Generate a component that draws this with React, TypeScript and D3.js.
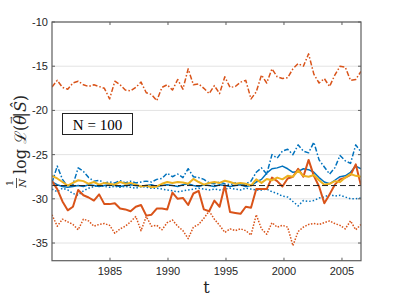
import React from 'react'
import * as d3 from 'd3'

// time grid: 60 samples from 1980 to ~2006.6
const startYear = 1980
const stepYear = 0.4515
const nPts = 60

const topDashDot = [
  -17.35, -16.6, -17.4, -17.6, -16.9, -16.7, -17.1, -17.3, -17.1, -17.3,
  -17.5, -18.7, -16.7, -17.1, -17.7, -17.8, -17.4, -16.8, -18.0, -18.2,
  -18.9, -17.4, -17.1, -17.7, -16.5, -17.6, -15.3, -17.1, -17.0, -17.5,
  -18.1, -17.2, -18.1, -16.2, -17.4, -17.3, -16.8, -16.6, -18.7, -17.9,
  -16.0, -16.9, -15.3, -16.2, -16.4, -16.3, -15.3, -14.7, -15.0, -13.6,
  -15.9, -16.9, -16.4, -17.3, -16.0, -15.0, -15.1, -16.6, -16.5, -15.6
]

const orangeSolid = [
  -28.0, -28.9, -30.3, -31.3, -30.9, -29.0, -29.6, -29.85, -30.2, -29.5,
  -30.6, -30.6, -30.5, -31.1, -31.2, -31.4, -30.9, -30.7, -31.9, -31.8,
  -31.1, -31.1, -31.2, -29.3, -30.0, -29.9, -30.7, -29.4, -29.1, -31.2,
  -31.4, -30.2, -30.9, -28.5, -31.5, -31.6, -31.7, -30.9, -31.0, -28.9,
  -28.9, -28.9, -27.6, -28.0, -28.6, -27.7, -27.5, -26.6, -27.5, -25.6,
  -27.4, -28.6, -30.5, -29.5, -28.4, -27.8, -27.6, -27.3, -26.1, -28.5
]

const orangeDotted = [
  -31.8, -33.1, -32.3, -32.6, -32.9, -33.5, -32.3, -32.5, -33.1, -32.9,
  -32.8, -33.0, -33.9, -33.4, -33.1, -32.6, -32.0, -33.6, -32.0, -33.1,
  -33.0, -33.5, -32.7, -32.4, -33.1, -33.6, -34.5, -33.2, -32.9, -32.2,
  -31.4, -32.3, -33.0, -33.8, -33.4, -33.6, -33.4, -33.6, -34.1, -31.8,
  -33.4, -34.0, -32.7, -33.2, -33.0, -33.2, -35.3, -33.7, -33.2, -32.9,
  -32.8, -32.9, -32.7, -32.5, -32.8, -33.0, -33.4, -32.5, -33.5, -32.9
]

const blueDashDot = [
  -28.2, -26.3, -27.8, -28.6, -28.4, -26.5, -26.9, -27.6, -28.0, -27.9,
  -28.2, -28.1, -28.2, -27.95, -28.2, -28.0, -28.2, -28.1, -28.0, -28.1,
  -27.8, -27.7, -27.1, -27.5, -27.2, -27.6, -26.6, -27.5, -27.6, -27.8,
  -28.2, -28.3, -28.1, -28.3, -28.4, -28.2, -28.5, -28.3, -28.0, -27.0,
  -26.5, -27.2, -25.0, -25.4, -24.6, -24.4, -25.0, -23.9, -24.6, -24.8,
  -23.6, -25.6, -26.4, -27.2, -26.5, -25.1, -25.7, -26.0, -23.9, -24.7
]

const blueDotted = [
  -28.9, -29.2, -28.8, -29.0, -29.4, -29.6, -29.1, -28.8, -28.6, -28.5,
  -28.6, -28.7, -28.6, -28.7, -28.6, -28.7, -28.8, -28.6, -28.7, -28.8,
  -28.8, -28.9, -29.0, -29.1, -29.2, -29.1, -29.0, -28.9, -28.8, -28.9,
  -29.0, -28.9, -29.0, -28.9, -28.8, -28.9, -29.0, -28.8, -28.9, -29.0,
  -29.0, -28.9, -29.2, -29.4, -29.7, -29.8, -30.3, -30.8, -30.2, -30.3,
  -30.2, -29.9, -29.8, -29.5, -29.7, -29.6, -29.8, -30.0, -30.0, -29.9
]

const blueSolid = [
  -28.1, -28.4, -28.6, -28.7, -28.6, -28.5, -28.6, -28.4, -28.5, -28.6,
  -28.5, -28.4, -28.5, -28.6, -28.5, -28.4, -28.5, -28.6, -28.5, -28.4,
  -28.6, -28.5, -28.4, -28.5, -28.6, -28.4, -28.3, -28.5, -28.6, -28.4,
  -28.5, -28.6, -28.4, -28.5, -28.6, -28.5, -28.4, -28.6, -28.5, -28.1,
  -27.8, -27.1, -26.6, -26.5, -26.3, -26.6, -27.0, -26.9, -26.6, -26.7,
  -27.0, -27.6, -28.1, -28.3, -27.9, -27.5, -27.4, -27.0, -26.3, -26.6
]

const yellowSolid = [
  -27.4, -27.7, -28.1, -28.5, -28.2, -27.9, -28.0, -28.3, -28.1, -28.4,
  -28.2, -28.3, -28.4, -28.1, -28.3, -28.2, -28.4, -28.6, -28.5, -28.7,
  -28.6, -28.3, -28.1, -28.2, -28.1, -28.15, -28.3, -27.75, -28.1, -28.4,
  -28.2, -28.1, -28.2, -27.95, -28.1, -28.3, -28.2, -28.3, -28.5, -27.8,
  -28.2, -27.75, -27.9, -27.6, -27.8, -27.4, -27.5, -26.8, -27.4, -27.5,
  -27.3, -27.9, -28.4, -28.3, -28.0, -28.1, -27.6, -27.2, -27.4, -27.5
]

const baseline = -28.5

const xTicks = [1985, 1990, 1995, 2000, 2005]
const yTicks = [-35, -30, -25, -20, -15, -10]

const blue = '#0072BD'
const orange = '#D95319'
const yellow = '#EDB120'

export default function App() {
  const width = 399
  const height = 299
  const left = 52
  const right = 361
  const top = 22
  const bottom = 260.7

  const years = d3.range(nPts).map(i => startYear + i * stepYear)

  const x = d3.scaleLinear().domain([1980, 2006.64]).range([left, right])
  const y = d3.scaleLinear().domain([-37, -10]).range([bottom, top])

  const line = d3
    .line<number>()
    .x((_, i) => x(years[i]))
    .y(d => y(d))

  const series = [
    { data: topDashDot, color: orange, w: 1.5, dash: '5,2,1.5,2' },
    { data: orangeDotted, color: orange, w: 1.5, dash: '1.5,1.5' },
    { data: blueDotted, color: blue, w: 1.5, dash: '1.5,2' },
    { data: blueDashDot, color: blue, w: 1.5, dash: '5,2,1.5,2' },
    { data: blueSolid, color: blue, w: 1.5, dash: null },
    { data: orangeSolid, color: orange, w: 2, dash: null },
    { data: yellowSolid, color: yellow, w: 2, dash: null }
  ]

  const axisColor = '#5e5e5e'
  const tickFont = 'Liberation Sans, Arial, sans-serif'

  return (
    <svg width={width} height={height} style={{ position: 'absolute', left: 0, top: 0 }}>
      <rect x={0} y={0} width={width} height={height} fill="#fff" />
      <defs>
        <clipPath id="plot">
          <rect x={left} y={top} width={right - left} height={bottom - top} />
        </clipPath>
      </defs>

      {/* grid */}
      {yTicks.map(t => (
        <line key={t} x1={left} x2={right} y1={y(t)} y2={y(t)} stroke="#e3e3e3" strokeWidth={1} />
      ))}

      <g clipPath="url(#plot)">
        {series.map((s, i) => (
          <path
            key={i}
            d={line(s.data) || ''}
            fill="none"
            stroke={s.color}
            strokeWidth={s.w}
            strokeDasharray={s.dash || undefined}
            strokeLinejoin="round"
          />
        ))}
        <line
          x1={left}
          x2={right}
          y1={y(baseline)}
          y2={y(baseline)}
          stroke="#222"
          strokeWidth={1}
          strokeDasharray="6,3"
        />
      </g>

      {/* box */}
      <rect x={left} y={top} width={right - left} height={bottom - top} fill="none" stroke={axisColor} strokeWidth={1.2} />

      {/* ticks */}
      {xTicks.map(t => (
        <g key={t}>
          <line x1={x(t)} x2={x(t)} y1={bottom} y2={bottom - 3} stroke={axisColor} />
          <line x1={x(t)} x2={x(t)} y1={top} y2={top + 3} stroke={axisColor} />
          <text x={x(t)} y={bottom + 14} textAnchor="middle" fontSize={11} fontFamily={tickFont} fill="#262626">
            {t}
          </text>
        </g>
      ))}
      {yTicks.map(t => (
        <g key={t}>
          <line x1={left} x2={left + 3} y1={y(t)} y2={y(t)} stroke={axisColor} />
          <line x1={right} x2={right - 3} y1={y(t)} y2={y(t)} stroke={axisColor} />
          <text x={left - 4} y={y(t) + 4} textAnchor="end" fontSize={11} fontFamily={tickFont} fill="#262626">
            {t}
          </text>
        </g>
      ))}

      {/* x label */}
      <text x={(left + right) / 2} y={293} textAnchor="middle" fontSize={16} fontFamily="DejaVu Serif, serif" fill="#262626">
        t
      </text>

      {/* y label */}
      <g transform="translate(0,188) rotate(-90)" fill="#262626" fontFamily="DejaVu Serif, serif">
        <text x={5} y={13} textAnchor="middle" fontSize={10}>1</text>
        <line x1={0} x2={10} y1={16.5} y2={16.5} stroke="#262626" strokeWidth={0.8} />
        <text x={5} y={26} textAnchor="middle" fontSize={10} fontStyle="italic">N</text>
        <text x={14} y={26} fontSize={16}>
          log ℒ(<tspan fontStyle="italic">θ</tspan>
          <tspan fontSize={9} dx={-9} dy={-12}>→</tspan>
          <tspan dx={-1} dy={12}>|</tspan>
          <tspan fontStyle="italic">Ŝ</tspan>)
        </text>
      </g>

      {/* annotation */}
      <rect x={62.5} y={113.5} width={70} height={21} fill="#fff" stroke="#222" strokeWidth={1} />
      <text x={97.5} y={129.5} textAnchor="middle" fontSize={15} fontFamily="Liberation Serif, serif" fill="#000">
        N = 100
      </text>
    </svg>
  )
}
